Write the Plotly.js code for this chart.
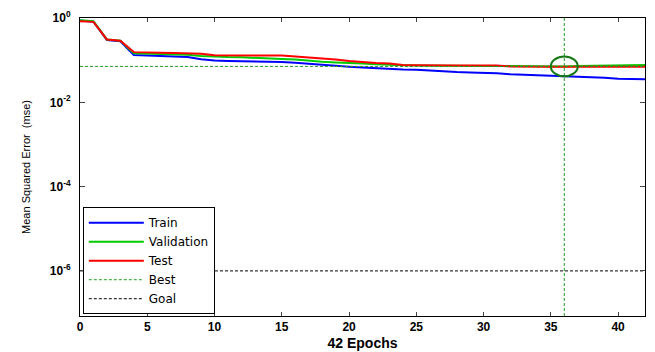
<!DOCTYPE html>
<html>
<head>
<meta charset="utf-8">
<script src="https://cdn.plot.ly/plotly-3.0.1.min.js"></script>
<style>html,body{margin:0;padding:0;background:#fff;}#chart{width:655px;height:352px;}</style>
</head>
<body>
<div id="chart"></div>
<script>
var epochs = [0,1,2,3,4,5,6,7,8,9,10,11,12,13,14,15,16,17,18,19,20,21,22,23,24,25,26,27,28,29,30,31,32,33,34,35,36,37,38,39,40,41,42];
var trainMSE = [0.87,0.82,0.30,0.28,0.133,0.130,0.128,0.122,0.118,0.105,0.098,0.096,0.095,0.092,0.091,0.090,0.087,0.082,0.076,0.072,0.070,0.067,0.064,0.062,0.060,0.059,0.056,0.053,0.052,0.051,0.050,0.049,0.046,0.045,0.043,0.042,0.041,0.040,0.039,0.038,0.036,0.035,0.035];
var valMSE = [0.88,0.84,0.31,0.29,0.145,0.143,0.142,0.140,0.135,0.126,0.120,0.118,0.117,0.112,0.111,0.106,0.104,0.097,0.092,0.088,0.087,0.083,0.080,0.077,0.076,0.075,0.074,0.074,0.073,0.073,0.073,0.073,0.072,0.072,0.072,0.072,0.071,0.073,0.074,0.074,0.075,0.077,0.077];
var testMSE = [0.84,0.81,0.31,0.29,0.155,0.150,0.150,0.148,0.146,0.142,0.130,0.129,0.129,0.129,0.129,0.129,0.122,0.116,0.111,0.104,0.096,0.089,0.085,0.083,0.077,0.076,0.075,0.075,0.075,0.075,0.075,0.075,0.071,0.070,0.070,0.070,0.070,0.070,0.070,0.070,0.070,0.070,0.070];
var bestEpoch = 36;
var bestValue = 0.071;
var goalValue = 1e-6;
var yTickVals = [1e-6, 1e-4, 1e-2, 1];
var yTickText = ['10<sup>-6</sup>', '10<sup>-4</sup>', '10<sup>-2</sup>', '10<sup>0</sup>'];
var xTickVals = [0,5,10,15,20,25,30,35,40];

var yLogMin = -7.07, yLogMax = 0;
var yMin = Math.pow(10, yLogMin), yMax = Math.pow(10, yLogMax);
var xMax = epochs[epochs.length - 1];

var traces = [
  {x: epochs, y: trainMSE, name: 'Train', mode: 'lines', line: {color: '#0000ff', width: 2}},
  {x: epochs, y: valMSE, name: 'Validation', mode: 'lines', line: {color: '#00cc00', width: 2}},
  {x: epochs, y: testMSE, name: 'Test', mode: 'lines', line: {color: '#ff0000', width: 2}},
  {x: [0, xMax, null, bestEpoch, bestEpoch], y: [bestValue, bestValue, null, yMin, yMax], name: 'Best', mode: 'lines', line: {color: '#22a022', width: 1, dash: '3px,2px'}},
  {x: [0, xMax], y: [goalValue, goalValue], name: 'Goal', mode: 'lines', line: {color: '#000000', width: 1, dash: '3px,2px'}}
];

// marker ellipse around best point: half sizes (27x20 px ellipse) converted via axis scale
var halfEpochs = 1.0;
var halfDecades = 0.235;

var layout = {
  width: 655, height: 352,
  margin: {l: 80, r: 9, t: 14, b: 36},
  paper_bgcolor: '#fff', plot_bgcolor: '#fff',
  font: {family: 'Liberation Sans, Arial, sans-serif', color: '#000'},
  showlegend: true,
  legend: {
    x: 0.005, y: 0.006, xanchor: 'left', yanchor: 'bottom',
    bgcolor: '#fff', bordercolor: '#000', borderwidth: 1,
    font: {size: 12, family: 'DejaVu Sans, sans-serif'},
    itemwidth: 55, indentation: 0, tracegroupgap: 0,
    entrywidth: 140, entrywidthmode: 'pixels'
  },
  xaxis: {
    range: [0, xMax], tickvals: xTickVals, ticks: 'inside', ticklen: 4, tickwidth: 1,
    showline: true, linecolor: '#000', linewidth: 1, mirror: 'ticks', showgrid: false, zeroline: false,
    tickfont: {size: 12, family: 'Liberation Sans, Arial, sans-serif', weight: 'bold'},
    title: {text: '42 Epochs', font: {size: 14, weight: 'bold'}, standoff: 4}
  },
  yaxis: {
    type: 'log', range: [yLogMin, yLogMax], tickvals: yTickVals, ticktext: yTickText,
    ticks: 'inside', ticklen: 5, tickwidth: 1, ticklabelstandoff: 6,
    showline: true, linecolor: '#000', linewidth: 1, mirror: 'ticks', showgrid: false, zeroline: false,
    tickfont: {size: 12, family: 'Liberation Sans, Arial, sans-serif', weight: 'bold'},
    automargin: true,
    title: {text: 'Mean Squared Error \u00a0(mse)', font: {size: 11}, standoff: 16}
  },
  shapes: [{
    type: 'circle', xref: 'x', yref: 'y',
    x0: bestEpoch - halfEpochs, x1: bestEpoch + halfEpochs,
    y0: bestValue / Math.pow(10, halfDecades), y1: bestValue * Math.pow(10, halfDecades),
    line: {color: '#157a15', width: 2}
  }]
};

Plotly.newPlot('chart', traces, layout, {displayModeBar: false, staticPlot: true});
</script>
</body>
</html>
